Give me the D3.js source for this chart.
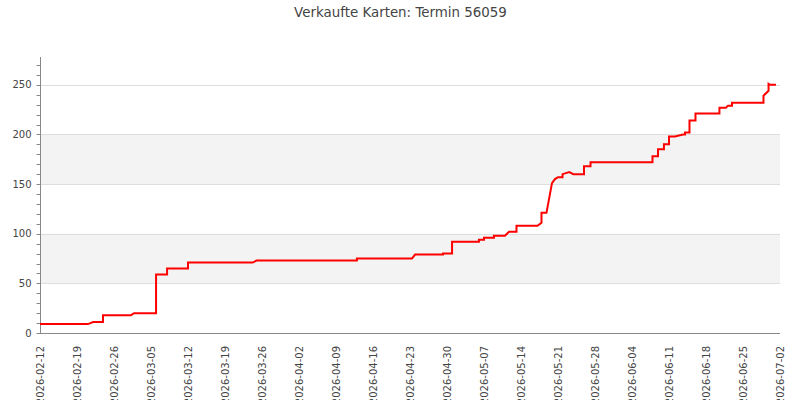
<!DOCTYPE html>
<html>
<head>
<meta charset="utf-8">
<script src="https://cdn.jsdelivr.net/npm/d3@7"></script>
<style>
  html, body { margin: 0; padding: 0; background: #fff; }
  svg { display: block; font-family: "DejaVu Sans", sans-serif; }
</style>
</head>
<body>
<svg id="chart" width="800" height="400"></svg>
<script>
const title = "Verkaufte Karten: Termin 56059";

const times = [
  "2026-02-12T00:00", "2026-02-21T02:00", "2026-02-22T01:00", "2026-02-23T22:00", "2026-02-23T22:00",
  "2026-03-01T05:00", "2026-03-01T19:00", "2026-03-05T23:00", "2026-03-05T23:00", "2026-03-08T01:00",
  "2026-03-08T01:00", "2026-03-12T00:00", "2026-03-12T00:00", "2026-03-24T06:00", "2026-03-24T23:00",
  "2026-04-12T23:00", "2026-04-12T23:00", "2026-04-23T09:00", "2026-04-23T23:00", "2026-04-29T06:00",
  "2026-04-29T06:00", "2026-04-30T23:00", "2026-04-30T23:00", "2026-05-06T01:00", "2026-05-06T01:00",
  "2026-05-07T00:00", "2026-05-07T00:00", "2026-05-08T21:00", "2026-05-08T21:00", "2026-05-10T23:00",
  "2026-05-11T17:30", "2026-05-13T03:30", "2026-05-13T03:30", "2026-05-17T03:00", "2026-05-17T21:00",
  "2026-05-17T21:00", "2026-05-18T19:40", "2026-05-19T20:40", "2026-05-20T10:20", "2026-05-21T00:00",
  "2026-05-21T20:25", "2026-05-21T21:00", "2026-05-23T03:20", "2026-05-23T21:40", "2026-05-25T22:00",
  "2026-05-25T22:00", "2026-05-27T03:40", "2026-05-27T03:40", "2026-06-07T21:00", "2026-06-07T21:00",
  "2026-06-08T22:00", "2026-06-08T22:00", "2026-06-10T01:00", "2026-06-10T01:00", "2026-06-11T00:00",
  "2026-06-11T00:00", "2026-06-12T03:00", "2026-06-13T15:40", "2026-06-14T00:40", "2026-06-14T00:40",
  "2026-06-14T21:00", "2026-06-14T21:00", "2026-06-16T00:15", "2026-06-16T00:15", "2026-06-20T13:00",
  "2026-06-20T13:00", "2026-06-21T18:40", "2026-06-22T04:00", "2026-06-22T22:00", "2026-06-22T22:00",
  "2026-06-28T21:00", "2026-06-28T21:00", "2026-06-29T20:00", "2026-06-29T20:00", "2026-06-30T02:40",
  "2026-07-01T06:00"
];

const sold = [
  9, 9, 11, 11, 18,
  18, 20, 20, 59, 59,
  65, 65, 71, 71, 73,
  73, 75, 75, 79, 79,
  80, 80, 92, 92, 94,
  94, 96, 96, 98, 98,
  102, 102, 108, 108, 111,
  121, 121, 151, 155, 157,
  157, 160, 162, 160, 160,
  168, 168, 172, 172, 178,
  178, 185, 185, 190, 190,
  198, 198, 200, 200, 202,
  202, 214, 214, 221, 221,
  227, 227, 229, 229, 232,
  232, 239, 244, 251, 250,
  250
];

const xTickLabels = [
  "2026-02-12", "2026-02-19", "2026-02-26", "2026-03-05", "2026-03-12", "2026-03-19",
  "2026-03-26", "2026-04-02", "2026-04-09", "2026-04-16", "2026-04-23", "2026-04-30",
  "2026-05-07", "2026-05-14", "2026-05-21", "2026-05-28", "2026-06-04", "2026-06-11",
  "2026-06-18", "2026-06-25", "2026-07-02"
];
const yTicks = [0, 50, 100, 150, 200, 250];
const yMinorTicks = [0, 10, 20, 30, 40, 50, 60, 70, 80, 90, 100, 110, 120, 130, 140, 150,
  160, 170, 180, 190, 200, 210, 220, 230, 240, 250, 260, 270];
const bands = [[50, 100], [150, 200]];

const parseT = d3.utcParse("%Y-%m-%dT%H:%M");
const parseD = d3.utcParse("%Y-%m-%d");
const data = times.map((t, i) => ({ t: parseT(t), v: sold[i] }));
const tickDates = xTickLabels.map(parseD);

const svg = d3.select("#chart");
const m = { left: 40, right: 20, top: 57, bottom: 67 };
const W = 800, H = 400;

const x = d3.scaleUtc()
  .domain([tickDates[0], tickDates[tickDates.length - 1]])
  .range([m.left, W - m.right]);
const y = d3.scaleLinear()
  .domain([0, 278])
  .range([H - m.bottom, m.top]);

// bands
svg.append("g").selectAll("rect").data(bands).join("rect")
  .attr("x", m.left)
  .attr("width", W - m.right - m.left)
  .attr("y", d => y(d[1]))
  .attr("height", d => y(d[0]) - y(d[1]))
  .attr("fill", "#f3f3f3");

// grid lines
svg.append("g").selectAll("line").data(yTicks.filter(v => v > 0)).join("line")
  .attr("x1", m.left).attr("x2", W - m.right)
  .attr("y1", d => Math.round(y(d)) + 0.5).attr("y2", d => Math.round(y(d)) + 0.5)
  .attr("stroke", "#dedede").attr("stroke-width", 1);

// y axis
const gy = svg.append("g").attr("transform", `translate(${m.left + 0.5},0)`);
gy.append("line")
  .attr("y1", y(278)).attr("y2", y(0))
  .attr("stroke", "#888");
gy.selectAll("line.minor").data(yMinorTicks).join("line")
  .attr("class", "minor")
  .attr("x1", -4).attr("x2", 0)
  .attr("y1", d => Math.round(y(d)) + 0.5).attr("y2", d => Math.round(y(d)) + 0.5)
  .attr("stroke", "#888");
gy.selectAll("text").data(yTicks).join("text")
  .attr("x", -9)
  .attr("y", d => y(d))
  .attr("dy", "0.35em")
  .attr("text-anchor", "end")
  .attr("font-size", 10)
  .attr("fill", "#444")
  .text(d => d);

// x axis
const gx = svg.append("g");
gx.append("line")
  .attr("x1", m.left).attr("x2", W - m.right)
  .attr("y1", Math.round(y(0)) + 0.5).attr("y2", Math.round(y(0)) + 0.5)
  .attr("stroke", "#888");
gx.selectAll("text").data(tickDates).join("text")
  .attr("transform", d => `translate(${x(d)},${y(0) + 13}) rotate(-90)`)
  .attr("dy", "0.35em")
  .attr("text-anchor", "end")
  .attr("font-size", 10)
  .attr("fill", "#444")
  .text((d, i) => xTickLabels[i]);

// line
const line = d3.line().x(d => x(d.t)).y(d => y(d.v));
svg.append("path")
  .datum(data)
  .attr("d", line)
  .attr("fill", "none")
  .attr("stroke", "#ff0000")
  .attr("stroke-width", 2)
  .attr("stroke-linejoin", "miter");

// title
svg.append("text")
  .attr("x", 400.5).attr("y", 16.5)
  .attr("text-anchor", "middle")
  .attr("font-size", 13.4)
  .attr("fill", "#444")
  .text(title);
</script>
</body>
</html>
